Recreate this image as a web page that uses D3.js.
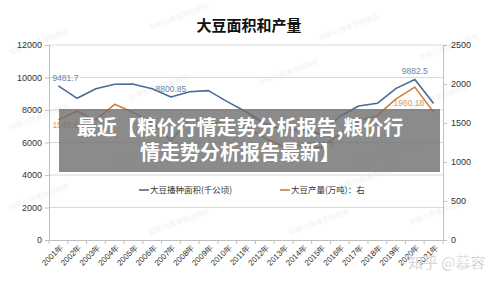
<!DOCTYPE html>
<html>
<head>
<meta charset="utf-8">
<script src="https://cdn.jsdelivr.net/npm/d3@7"></script>
<style>
  body { margin:0; background:#fff; }
  svg { display:block; font-family:"Noto Sans CJK SC","Liberation Sans",sans-serif; }
</style>
</head>
<body>
<svg id="Vis" width="500" height="281"></svg>
<script>
var years = ["2001年","2002年","2003年","2004年","2005年","2006年","2007年","2008年","2009年","2010年","2011年",
             "2012年","2013年","2014年","2015年","2016年","2017年","2018年","2019年","2020年","2021年"];
// 大豆播种面积(千公顷)
var areaVals = [9481.7,8719.9,9312.9,9588.8,9590.6,9303.5,8800.85,9126.9,9190.2,8516.1,7889.1,
                7171.6,6790.6,6800.1,6506.7,7599.4,8244.8,8413.3,9331.8,9882.5,8400.0];
// 大豆产量(万吨)
var prodVals = [1540.6,1650.5,1539.3,1740.2,1634.8,1508.2,1272.5,1554.2,1498.2,1508.3,1448.5,
                1305.0,1195.1,1215.4,1178.5,1359.6,1528.2,1596.7,1809.2,1960.18,1639.5];
var leftTicks  = [0,2000,4000,6000,8000,10000,12000];
var rightTicks = [0,500,1000,1500,2000,2500];
var areaLabels = [[0,"9481.7"],[6,"8800.85"],[14,"6506.7"],[19,"9882.5"]];
var prodLabels = [[0,"1540.6"],[19,"1960.18"]];
var marks = ["如需引用请添加微信"];

var svg = d3.select("#Vis");
var blue = "#4a6b98", orange = "#cf7f3a";

var x  = d3.scaleBand().domain(years).range([49,443]).padding(0);
var yL = d3.scaleLinear().domain([0,12000]).range([240,45]);
var yR = d3.scaleLinear().domain([0,2500]).range([240,45]);
function cx(i){ return x(years[i]) + x.bandwidth()/2; }

// faint watermarks
var wm = [[10,55],[150,30],[320,40],[420,60],[130,100],[260,85],[10,130],[410,110],[120,165],[240,170],[360,165],
          [10,210],[150,235],[290,235],[410,225],[340,190]];
svg.selectAll("text.wm").data(wm).enter().append("text")
   .attr("class","wm")
   .attr("transform",function(d){return "translate("+d[0]+","+d[1]+") rotate(-20)";})
   .attr("font-size",7).attr("fill","#000").attr("opacity",0.06)
   .text(marks[0]);

// grid
svg.append("g").selectAll("line").data(leftTicks.slice(1)).enter().append("line")
   .attr("x1",49).attr("x2",443)
   .attr("y1",function(d){return yL(d);}).attr("y2",function(d){return yL(d);})
   .attr("stroke","#d9d9d9").attr("stroke-width",1);

// axes
var gL = svg.append("g").attr("transform","translate(49,0)")
   .call(d3.axisLeft(yL).tickValues(leftTicks).tickFormat(d3.format("d")).tickSize(4).tickPadding(3));
var gR = svg.append("g").attr("transform","translate(443,0)")
   .call(d3.axisRight(yR).tickValues(rightTicks).tickFormat(d3.format("d")).tickSize(4).tickPadding(4));
[gL,gR].forEach(function(g){
  g.select(".domain").attr("stroke","#bfbfbf");
  g.selectAll(".tick line").attr("stroke","#bfbfbf");
  g.selectAll("text").attr("font-size",9).attr("fill","#333").attr("font-family","Liberation Sans, sans-serif");
});
gL.selectAll(".tick").filter(function(d){return d==0;}).select("line").remove();

var gX = svg.append("g").attr("transform","translate(0,240)")
   .call(d3.axisBottom(x).tickSize(0).tickPadding(0));
gX.select(".domain").attr("stroke","#bfbfbf");
gX.append("g").selectAll("line").data(years.concat(["end"])).enter().append("line")
   .attr("x1",function(d,i){return 49 + i*x.bandwidth();})
   .attr("x2",function(d,i){return 49 + i*x.bandwidth();})
   .attr("y1",0).attr("y2",4).attr("stroke","#bfbfbf");
gX.selectAll(".tick text")
   .attr("font-size",8).attr("fill","#333")
   .attr("text-anchor","end")
   .attr("transform","translate(3,6) rotate(-45)")
   .attr("dy","0.35em");

// lines
var lineA = d3.line().x(function(d,i){return cx(i);}).y(function(d){return yL(d);});
var lineP = d3.line().x(function(d,i){return cx(i);}).y(function(d){return yR(d);});
svg.append("path").datum(areaVals).attr("d",lineA).attr("fill","none")
   .attr("stroke",blue).attr("stroke-width",1.6).attr("stroke-linejoin","round");
svg.append("path").datum(prodVals).attr("d",lineP).attr("fill","none")
   .attr("stroke",orange).attr("stroke-width",1.6).attr("stroke-linejoin","round");

// data labels
svg.selectAll("text.la").data(areaLabels).enter().append("text")
   .attr("class","la")
   .attr("x",function(d){return d[0]==0 ? cx(0)-6 : cx(d[0]);})
   .attr("y",function(d){return d[0]==14 ? yL(areaVals[d[0]])+14 : yL(areaVals[d[0]])-5;})
   .attr("text-anchor",function(d){return d[0]==0 ? "start" : "middle";})
   .attr("font-size",8.5).attr("fill","#6b86aa").attr("font-family","Liberation Sans, sans-serif")
   .text(function(d){return d[1];});
svg.selectAll("text.lp").data(prodLabels).enter().append("text")
   .attr("class","lp")
   .attr("x",function(d){return d[0]==0 ? cx(0)-6 : cx(d[0])-6;})
   .attr("y",function(d){return d[0]==0 ? yR(prodVals[0])+8 : yR(prodVals[d[0]])+19;})
   .attr("text-anchor",function(d){return d[0]==0 ? "start" : "middle";})
   .attr("font-size",8.5).attr("fill","#e09a62").attr("font-family","Liberation Sans, sans-serif")
   .text(function(d){return d[1];});

// title
svg.append("text").attr("x",249).attr("y",31).attr("text-anchor","middle")
   .attr("font-size",15).attr("font-weight","bold").attr("fill","#111")
   .text("大豆面积和产量");

// legend
var legend = [["大豆播种面积(千公顷)",blue,139],["大豆产量(万吨)：右",orange,280]];
var lg = svg.selectAll("g.lg").data(legend).enter().append("g").attr("class","lg")
   .attr("transform",function(d){return "translate("+d[2]+",190)";});
lg.append("line").attr("x1",0).attr("x2",10).attr("stroke",function(d){return d[1];}).attr("stroke-width",1.6);
lg.append("text").attr("x",11).attr("dy","0.35em").attr("font-size",8.5).attr("fill","#333")
   .text(function(d){return d[0];});

// banner
svg.append("rect").attr("x",59).attr("y",109).attr("width",381).attr("height",63)
   .attr("fill","rgba(110,110,110,0.8)");
var banner = ["最近【粮价行情走势分析报告,粮价行","情走势分析报告最新】"];
svg.selectAll("text.bn").data(banner).enter().append("text").attr("class","bn")
   .attr("x",240).attr("y",function(d,i){return 135 + i*25;})
   .attr("text-anchor","middle").attr("font-size",20).attr("font-weight","bold")
   .attr("fill","#fff").text(function(d){return d;});

// zhihu watermark
svg.append("text").attr("x",408).attr("y",268).attr("font-size",15)
   .attr("fill","#c4c4c4").attr("stroke","#fff").attr("stroke-width",0.3)
   .text("知乎 @慕容");
</script>
</body>
</html>
